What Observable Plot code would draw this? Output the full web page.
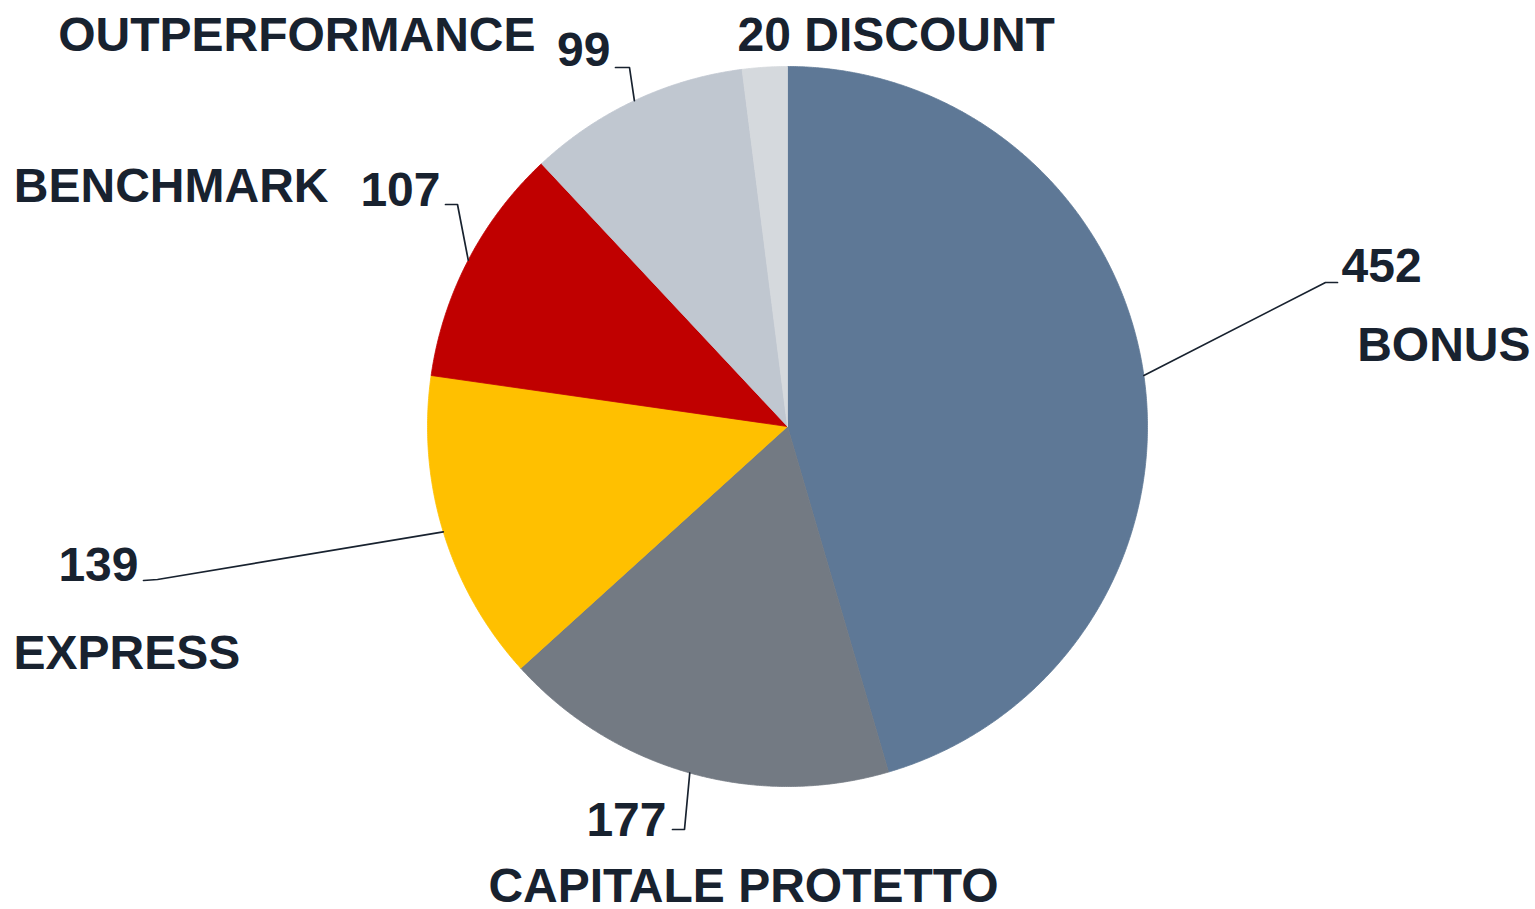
<!DOCTYPE html>
<html>
<head>
<meta charset="utf-8">
<script src="https://cdn.jsdelivr.net/npm/d3@7"></script>
<script src="https://cdn.jsdelivr.net/npm/@observablehq/plot@0.6"></script>
<style>
  html, body { margin: 0; padding: 0; background: #fff; }
  #chart { width: 1535px; height: 909px; }
</style>
</head>
<body>
<div id="chart"></div>
<script>
// ---- data ----
const categories = ["BONUS", "CAPITALE PROTETTO", "EXPRESS", "BENCHMARK", "OUTPERFORMANCE", "DISCOUNT"];
const values = [452, 177, 139, 107, 99, 20];
const colors = ["#5e7896", "#737a83", "#ffc000", "#c00000", "#c0c7d0", "#d5d9dd"];

// ---- layout (pixels in the 1535x909 frame) ----
const W = 1535, H = 909, CX = 787, CY = 426, R = 360;
const FS = 48;
const TEXT = "#18222f";
const layout = [
  { num: [1341, 266, "start"], name: [1530, 345, "end"], elbow: [1325, 282], end: [1337, 282] },
  { num: [666, 820, "end"], name: [743, 886, "middle"], elbow: [684, 829], end: [672, 829] },
  { num: [138, 565, "end"], name: [13, 653, "start"], elbow: [157, 579], end: [143, 580] },
  { num: [440, 190, "end"], name: [328, 186, "end"], elbow: [457, 204], end: [445, 204] },
  { num: [610, 50, "end"], name: [535, 35, "end"], elbow: [629, 67], end: [615, 67] },
  { combined: [737, 35, "start"] }
];

const ux = px => (px - CX) / R;
const uy = py => (CY - py) / R;

const pie = d3.pie().sort(null).value(d => d.value)(categories.map((c, i) => ({ name: c, value: values[i], color: colors[i] })));

const marks = [];

// slices as filled polygons
pie.forEach(s => {
  const pts = [{ x: 0, y: 0 }];
  const n = Math.max(4, Math.ceil((s.endAngle - s.startAngle) / 0.005));
  for (let k = 0; k <= n; k++) {
    const a = s.startAngle + (s.endAngle - s.startAngle) * k / n;
    pts.push({ x: Math.sin(a), y: Math.cos(a) });
  }
  pts.push({ x: 0, y: 0 });
  marks.push(Plot.line(pts, { x: "x", y: "y", fill: s.data.color, stroke: s.data.color, strokeWidth: 0.8, curve: "linear" }));
});

// leader lines
pie.forEach((s, i) => {
  const L = layout[i];
  if (!L.elbow) return;
  const mid = (s.startAngle + s.endAngle) / 2;
  const pts = [
    { x: Math.sin(mid), y: Math.cos(mid) },
    { x: ux(L.elbow[0]), y: uy(L.elbow[1]) },
    { x: ux(L.end[0]), y: uy(L.end[1]) }
  ];
  marks.push(Plot.line(pts, { x: "x", y: "y", stroke: TEXT, strokeWidth: 1.7, curve: "linear" }));
});

// labels
const labels = [];
pie.forEach((s, i) => {
  const L = layout[i];
  if (L.combined) {
    labels.push({ x: ux(L.combined[0]), y: uy(L.combined[1]), text: `${s.data.value} ${s.data.name}`, anchor: L.combined[2] });
  } else {
    labels.push({ x: ux(L.num[0]), y: uy(L.num[1]), text: String(s.data.value), anchor: L.num[2] });
    labels.push({ x: ux(L.name[0]), y: uy(L.name[1]), text: s.data.name, anchor: L.name[2] });
  }
});
["start", "middle", "end"].forEach(anchor => {
  marks.push(Plot.text(labels.filter(d => d.anchor === anchor), {
    x: "x", y: "y", text: "text", textAnchor: anchor, lineAnchor: "middle",
    fontSize: FS, fontWeight: "bold", fill: TEXT, fontFamily: "Liberation Sans, Arial, sans-serif"
  }));
});

const chart = Plot.plot({
  width: W,
  height: H,
  margin: 0,
  x: { domain: [ux(0), ux(W)], axis: null },
  y: { domain: [uy(H), uy(0)], axis: null },
  style: { background: "#fff", fontFamily: "Liberation Sans, Arial, sans-serif" },
  marks
});
document.getElementById("chart").appendChild(chart);
</script>
</body>
</html>
